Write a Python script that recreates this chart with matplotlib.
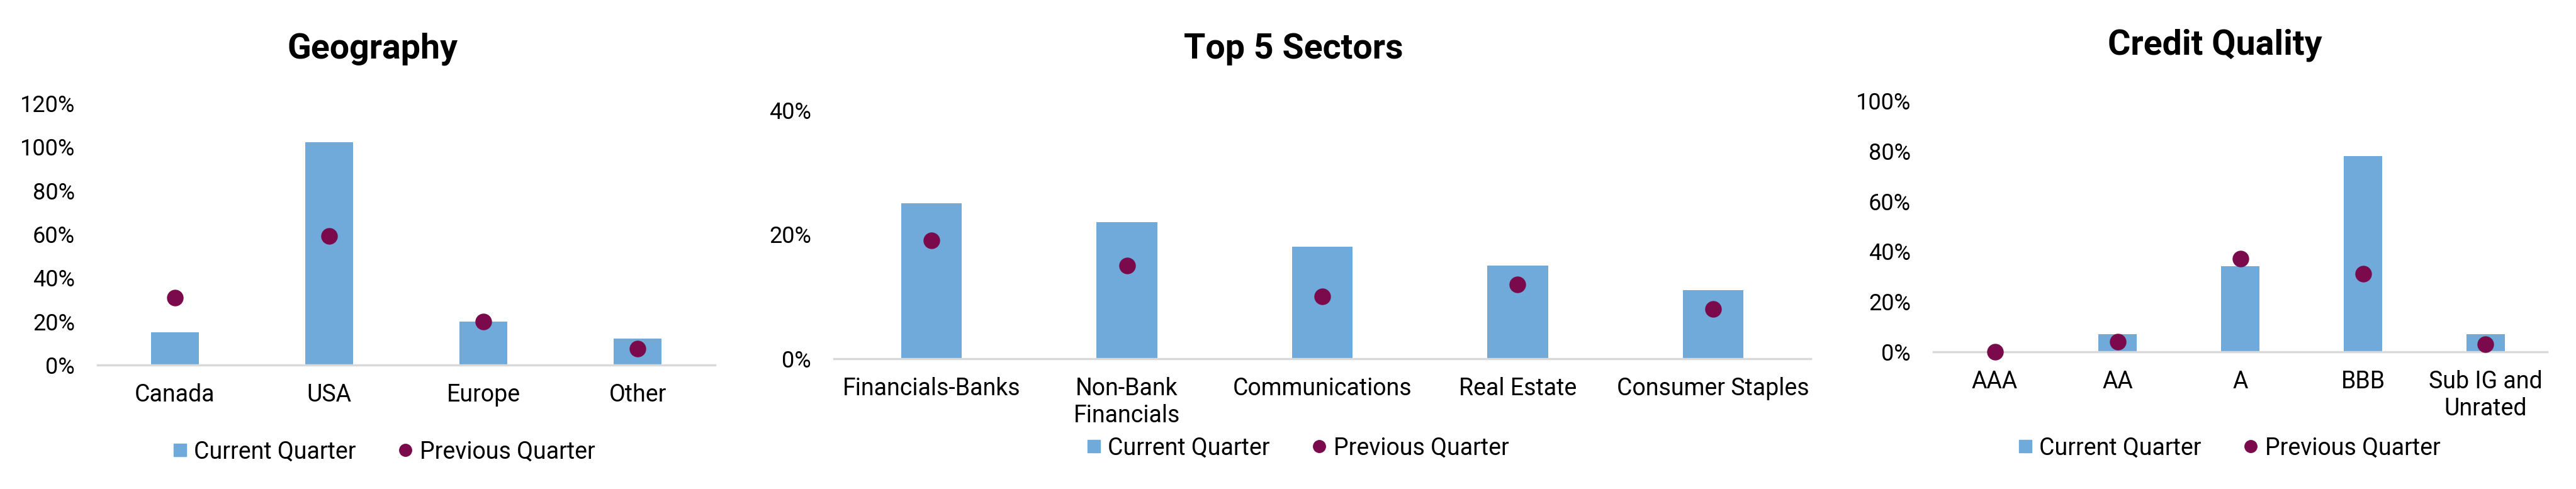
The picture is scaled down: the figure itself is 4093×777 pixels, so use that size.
import matplotlib
matplotlib.use("Agg")
import matplotlib.pyplot as plt
from matplotlib.lines import Line2D
import numpy as np

plt.rcParams['font.family'] = ['Roboto', 'DejaVu Sans']

# ---- data ----
geo_cats = ["Canada", "USA", "Europe", "Other"]
geo_current = [15, 102, 20, 12]
geo_previous = [31, 59, 20, 7.5]
geo_ticks = [0, 20, 40, 60, 80, 100, 120]

sec_cats = ["Financials-Banks", "Non-Bank\nFinancials", "Communications", "Real Estate", "Consumer Staples"]
sec_current = [25, 22, 18, 15, 11]
sec_previous = [19, 15, 10, 12, 8]
sec_ticks = [0, 20, 40]

cq_cats = ["AAA", "AA", "A", "BBB", "Sub IG and\nUnrated"]
cq_current = [0, 7, 34, 78, 7]
cq_previous = [0, 4, 37, 31, 3]
cq_ticks = [0, 20, 40, 60, 80, 100]

titles = ["Geography", "Top 5 Sectors", "Credit Quality"]
legend_labels = ["Current Quarter", "Previous Quarter"]

BAR = "#6FAADB"
DOT = "#7A0A4C"
AXIS = "#D9D9D9"

W, H = 4093, 777
fig = plt.figure(figsize=(W / 100, H / 100), dpi=100)

def px_axes(x0, x1, ytop, ybot):
    return fig.add_axes([x0 / W, 1 - ybot / H, (x1 - x0) / W, (ybot - ytop) / H])

panels = [
    dict(box=(155, 1136, 164, 580), cats=geo_cats, cur=geo_current, prev=geo_previous,
         ticks=geo_ticks, title=titles[0], tpos=(592, 78), lpos=(610, 718)),
    dict(box=(1325, 2877, 175, 570), cats=sec_cats, cur=sec_current, prev=sec_previous,
         ticks=sec_ticks, title=titles[1], tpos=(2055, 78), lpos=(2062, 712)),
    dict(box=(3072, 4047, 160, 559), cats=cq_cats, cur=cq_current, prev=cq_previous,
         ticks=cq_ticks, title=titles[2], tpos=(3519, 72), lpos=(3542, 712)),
]

for p in panels:
    ax = px_axes(*p['box'])
    x = np.arange(len(p['cats']))
    ax.bar(x, p['cur'], width=0.31, color=BAR, zorder=2)
    ax.plot(x, p['prev'], linestyle='none', marker='o', markersize=18,
            color=DOT, zorder=4, clip_on=False)
    ax.set_xlim(-0.5, len(p['cats']) - 0.5)
    ax.set_ylim(0, p['ticks'][-1])
    ax.set_yticks(p['ticks'])
    ax.set_yticklabels([f"{t}%" for t in p['ticks']])
    ax.set_xticks(x)
    ax.set_xticklabels(p['cats'], linespacing=1.2)
    for s in ['top', 'right', 'left']:
        ax.spines[s].set_visible(False)
    ax.spines['bottom'].set_color(AXIS)
    ax.spines['bottom'].set_linewidth(2.5)
    ax.spines['bottom'].set_zorder(3)
    ax.tick_params(axis='y', length=0, pad=26, labelsize=26, colors='black')
    ax.tick_params(axis='x', length=0, pad=21, labelsize=27, colors='black')
    fig.text(p['tpos'][0] / W, 1 - p['tpos'][1] / H, p['title'], ha='center', va='center',
             fontsize=40, fontweight='bold', color='black')
    handles = [
        Line2D([], [], linestyle='none', marker='s', markersize=14, color=BAR),
        Line2D([], [], linestyle='none', marker='o', markersize=14, color=DOT),
    ]
    fig.legend(handles, legend_labels, loc='center', ncol=2, frameon=False,
               bbox_to_anchor=(p['lpos'][0] / W, 1 - p['lpos'][1] / H),
               fontsize=27, handlelength=0.6, handletextpad=0.3, columnspacing=1.8,
               borderaxespad=0, borderpad=0)

fig.savefig("out.png", dpi=100, facecolor='white')
